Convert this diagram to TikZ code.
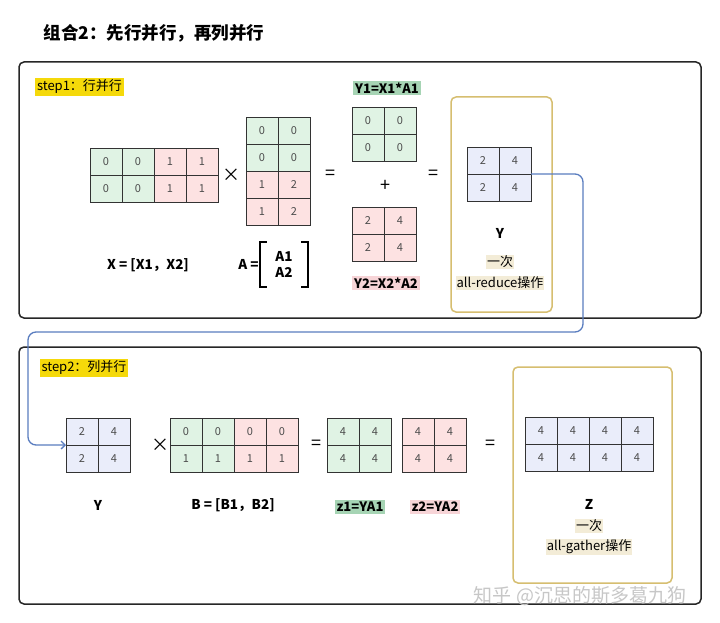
\documentclass[tikz,border=0pt]{standalone}
\usepackage{fontspec}
\setmainfont{Noto Sans CJK SC}
\usetikzlibrary{positioning,arrows.meta}

\definecolor{cellgreen}{RGB}{224,243,228}
\definecolor{cellpink}{RGB}{253,226,226}
\definecolor{cellblue}{RGB}{234,237,250}
\definecolor{tagyellow}{RGB}{245,217,10}
\definecolor{taggreen}{RGB}{166,212,180}
\definecolor{tagpink}{RGB}{247,212,215}
\definecolor{hlbeige}{RGB}{243,236,215}
\definecolor{boxtan}{RGB}{214,190,112}
\definecolor{linkblue}{RGB}{90,125,192}

\tikzset{
  cell/.style={draw=black!80, line width=0.8pt, minimum width=32pt, minimum height=27pt,
    inner sep=0pt, outer sep=0pt, text=black!70, font=\fontsize{11}{13}\selectfont},
  frame/.style={draw=black!85, line width=1.5pt, rounded corners=5pt},
  goldbox/.style={draw=boxtan, line width=1.5pt, rounded corners=5pt},
  tag/.style={inner sep=2pt, font=\fontsize{13}{15}\selectfont},
  boldtag/.style={inner sep=2pt, font=\bfseries\fontsize{13}{15}\selectfont},
  mlabel/.style={font=\bfseries\fontsize{13.5}{16}\selectfont},
  op/.style={font=\fontsize{18}{20}\selectfont},
  link/.style={draw=linkblue, line width=1.3pt, rounded corners=8pt,
    -{Straight Barb[length=4pt,width=8pt]}},
}

% one 2x2 block of cells: name, fill, top-left x, y, four values
\newcommand{\mblock}[8]{%
  \node[cell, fill=#2, anchor=north west] (#1-1-1) at (#3,#4) {#5};
  \node[cell, fill=#2, anchor=north west] (#1-1-2) at (#1-1-1.north east) {#6};
  \node[cell, fill=#2, anchor=north west] (#1-2-1) at (#1-1-1.south west) {#7};
  \node[cell, fill=#2, anchor=north west] (#1-2-2) at (#1-1-2.south west) {#8};
}

\begin{document}
\begin{tikzpicture}[x=1pt, y=-1pt]
  \useasboundingbox[fill=white] (0,0) rectangle (720,623);

  % ---- title ----
  \node[anchor=west, font=\bfseries\fontsize{17.5}{20}\selectfont] (title) at (40,33)
    {组合2：先行并行，再列并行};

  % ---- frames ----
  \draw[frame] (19,62) rectangle (701,318);
  \draw[frame] (19,347) rectangle (701,604);
  \draw[goldbox] (451,97) rectangle (552,312);
  \draw[goldbox] (513,367) rectangle (672,583);

  % ---- step 1: row parallel ----
  \node[tag, fill=tagyellow] (step1) at (79.5,87) {step1：行并行};

  \mblock{x1}{cellgreen}{90}{148}{0}{0}{0}{0}
  \mblock{x2}{cellpink}{154}{148}{1}{1}{1}{1}
  \node[op] (times1) at (231,175) {×};
  \mblock{a1}{cellgreen}{246}{117}{0}{0}{0}{0}
  \mblock{a2}{cellpink}{246}{171}{1}{2}{1}{2}
  \node[op] (eq1) at (330,175) {=};

  \node[boldtag, fill=taggreen] (y1tag) at (387,88) {Y1=X1*A1};
  \mblock{y1}{cellgreen}{352}{107}{0}{0}{0}{0}
  \node[op] (plus) at (385,186) {+};
  \mblock{y2}{cellpink}{352}{207}{2}{4}{2}{4}
  \node[boldtag, fill=tagpink] (y2tag) at (386,283) {Y2=X2*A2};
  \node[op] (eq2) at (433,175) {=};

  \mblock{yt}{cellblue}{467}{147}{2}{4}{2}{4}
  \node[mlabel] (ytname) at (500,233) {Y};
  \node[tag, fill=hlbeige, inner sep=1pt] (once1) at (500,262) {一次};
  \node[tag, fill=hlbeige, inner sep=1pt] (reduce) at (500,283) {all-reduce操作};

  \node[mlabel] (xname) at (148,265) {X = [X1，X2]};
  \node[mlabel, align=center, minimum width=48pt, minimum height=45pt, inner sep=0pt] (avec) at (284,264.5) {A1\\A2};
  \node[mlabel, left=0pt of avec, inner sep=1pt] (aname) {A =};
  \draw[line width=1.6pt] ([xshift=7pt]avec.north west) -- (avec.north west)
    -- (avec.south west) -- ([xshift=7pt]avec.south west);
  \draw[line width=1.6pt] ([xshift=-7pt]avec.north east) -- (avec.north east)
    -- (avec.south east) -- ([xshift=-7pt]avec.south east);

  % ---- hand Y over to step 2 ----
  \coordinate (turnR) at (583,332);
  \coordinate (turnL) at (28,332);

  % ---- step 2: column parallel ----
  \node[tag, fill=tagyellow] (step2) at (84,368) {step2：列并行};

  \mblock{yb}{cellblue}{66}{418}{2}{4}{2}{4}
  \node[mlabel] (ybname) at (98,505) {Y};
  \node[op] (times2) at (160,445) {×};
  \mblock{b1}{cellgreen}{170}{418}{0}{0}{1}{1}
  \mblock{b2}{cellpink}{234}{418}{0}{0}{1}{1}
  \node[mlabel] (bname) at (233,505) {B = [B1，B2]};
  \node[op] (eq3) at (316,445) {=};

  \mblock{z1}{cellgreen}{327}{418}{4}{4}{4}{4}
  \mblock{z2}{cellpink}{402}{418}{4}{4}{4}{4}
  \node[boldtag, fill=taggreen] (z1tag) at (360,507) {z1=YA1};
  \node[boldtag, fill=tagpink] (z2tag) at (435,507) {z2=YA2};
  \node[op] (eq4) at (490,445) {=};

  \mblock{zl}{cellblue}{525}{417}{4}{4}{4}{4}
  \mblock{zr}{cellblue}{589}{417}{4}{4}{4}{4}
  \node[mlabel] (zname) at (589,504) {Z};
  \node[tag, fill=hlbeige, inner sep=1pt] (once2) at (589,526) {一次};
  \node[tag, fill=hlbeige, inner sep=1pt] (gather) at (589,547) {all-gather操作};

  \draw[link] (yt-1-2.south east) -| (turnR) -- (turnL) |- (yb-1-1.south west);

  % ---- watermark ----
  \node[text=black!22, font=\fontsize{19}{22}\selectfont] (mark) at (580,596) {知乎 @沉思的斯多葛九狗};
\end{tikzpicture}
\end{document}
